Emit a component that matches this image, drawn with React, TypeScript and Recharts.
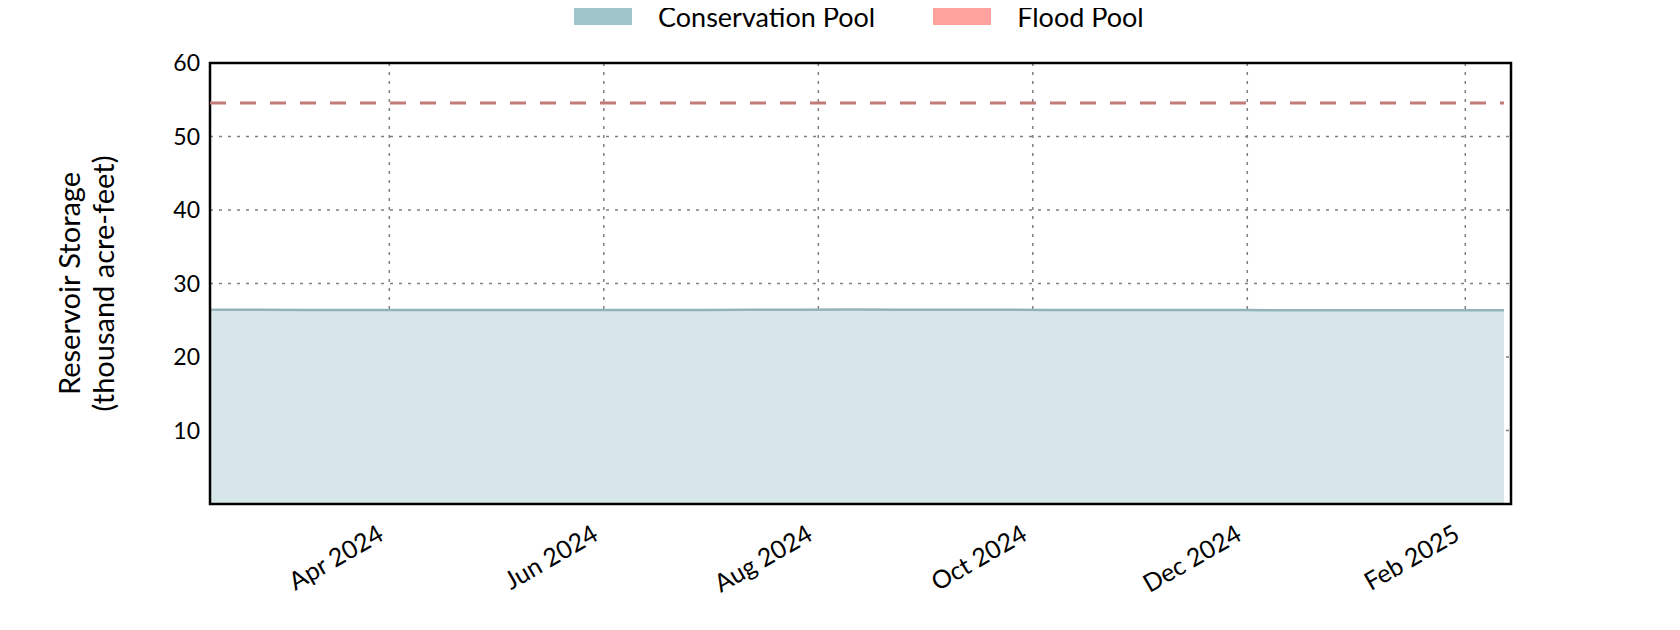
import React from 'react';
import { ComposedChart, Area, Line, XAxis, YAxis, CartesianGrid, ReferenceArea } from 'recharts';

// storage readings, thousand acre-feet (roughly every two weeks)
const DATES = [
    '2024-02-10', '2024-02-24', '2024-03-09', '2024-03-23', '2024-04-06', '2024-04-20',
    '2024-05-04', '2024-05-18', '2024-06-01', '2024-06-15', '2024-06-29', '2024-07-13',
    '2024-07-27', '2024-08-10', '2024-08-24', '2024-09-07', '2024-09-21', '2024-10-05',
    '2024-10-19', '2024-11-02', '2024-11-16', '2024-11-30', '2024-12-14', '2024-12-28',
    '2025-01-11', '2025-01-25', '2025-02-08', '2025-02-12',
];
const CONSERVATION = [
    26.42, 26.42, 26.41, 26.41, 26.40, 26.38, 26.38, 26.39, 26.40, 26.40, 26.41, 26.42,
    26.43, 26.45, 26.44, 26.43, 26.42, 26.41, 26.40, 26.40, 26.39, 26.38, 26.37, 26.36,
    26.35, 26.35, 26.36, 26.36,
];
const FLOOD_POOL = 54.56;

const X_TICKS = ['2024-04-01', '2024-06-01', '2024-08-01', '2024-10-01', '2024-12-01', '2025-02-01'];
const X_DOMAIN = ['2024-02-10', '2025-02-14'];
const Y_TICKS = [10, 20, 30, 40, 50, 60];

const MONTHS = ['Jan', 'Feb', 'Mar', 'Apr', 'May', 'Jun', 'Jul', 'Aug', 'Sep', 'Oct', 'Nov', 'Dec'];
const FONT = 'Lato, "Open Sans", sans-serif';

const ts = (d: string) => Date.parse(d + 'T00:00:00Z');

const data = DATES.map((d, i) => ({
    t: ts(d),
    conservation: CONSERVATION[i],
    flood: FLOOD_POOL,
}));

const fmtMonth = (v: number) => {
    const d = new Date(v);
    return `${MONTHS[d.getUTCMonth()]} ${d.getUTCFullYear()}`;
};

const XTick = (props: any) => {
    const { x, y, payload } = props;
    return (
        <text
            x={x - 4}
            y={y + 27}
            textAnchor="end"
            transform={`rotate(-30, ${x - 4}, ${y + 27})`}
            fontFamily={FONT}
            fontSize={25}
            fill="#000"
        >
            {fmtMonth(payload.value)}
        </text>
    );
};

const YTick = (props: any) => {
    const { x, y, payload } = props;
    return (
        <text x={x - 2} y={y} dy="0.35em" textAnchor="end" fontFamily={FONT} fontSize={23} fill="#000">
            {payload.value}
        </text>
    );
};

const YLabel = (props: any) => {
    const { viewBox } = props;
    const cy = viewBox.y + viewBox.height / 2;
    return (
        <g transform={`translate(0, ${cy})`}>
            <text transform="rotate(-90)" textAnchor="middle" fontFamily={FONT} fontSize={29} fill="#000">
                <tspan x={0} y={72}>Reservoir Storage</tspan>
                <tspan x={0} y={106}>(thousand acre-feet)</tspan>
            </text>
        </g>
    );
};

const legendItems = [
    { name: 'Conservation Pool', color: '#9fc5cb' },
    { name: 'Flood Pool', color: '#fda29c' },
];

export default function App() {
    return (
        <div style={{ position: 'relative', width: 1680, height: 630 }}>
            <div
                style={{
                    position: 'absolute',
                    top: -7,
                    left: 566,
                    height: 32,
                    display: 'flex',
                    alignItems: 'flex-start',
                    fontFamily: FONT,
                    fontSize: 27,
                    lineHeight: '32px',
                    zIndex: 1,
                }}
            >
                {legendItems.map((it, i) => (
                    <div key={it.name} style={{ display: 'flex', alignItems: 'flex-start', marginRight: i === 0 ? 58 : 0 }}>
                        <span
                            style={{
                                width: 58,
                                height: 24,
                                marginTop: 0,
                                background: it.color,
                                display: 'inline-block',
                                marginRight: 26,
                            }}
                        />
                        <span>{it.name}</span>
                    </div>
                ))}
            </div>
            <ComposedChart width={1680} height={630} data={data} margin={{ top: 55, right: 177, bottom: 0, left: 0 }}>
                <CartesianGrid
                    stroke="#7f7f7f"
                    strokeWidth={1.5}
                    strokeDasharray="3 6"
                    horizontalValues={[10, 20, 30, 40, 50]}
                    verticalValues={X_TICKS.map(ts)}
                />
                <XAxis
                    dataKey="t"
                    type="number"
                    scale="time"
                    domain={X_DOMAIN.map(ts)}
                    ticks={X_TICKS.map(ts)}
                    tick={<XTick />}
                    tickLine={false}
                    axisLine={false}
                    height={134}
                    interval={0}
                />
                <YAxis
                    type="number"
                    domain={[0, 60]}
                    ticks={Y_TICKS}
                    tick={<YTick />}
                    tickLine={false}
                    axisLine={false}
                    width={202}
                    interval={0}
                    label={<YLabel />}
                />
                <Area
                    type="linear"
                    dataKey="conservation"
                    stroke="#93b3b8"
                    strokeWidth={2.5}
                    fill="#d7e6e9"
                    fillOpacity={1}
                    isAnimationActive={false}
                    dot={false}
                    activeDot={false}
                />
                <Line
                    type="linear"
                    dataKey="flood"
                    stroke="#c47a76"
                    strokeWidth={3}
                    strokeDasharray="16 14"
                    dot={false}
                    activeDot={false}
                    isAnimationActive={false}
                />
                <ReferenceArea
                    x1={ts(X_DOMAIN[0])}
                    x2={ts(X_DOMAIN[1])}
                    y1={0}
                    y2={60}
                    fill="none"
                    fillOpacity={0}
                    stroke="#000"
                    strokeWidth={2.5}
                    ifOverflow="visible"
                />
            </ComposedChart>
        </div>
    );
}
